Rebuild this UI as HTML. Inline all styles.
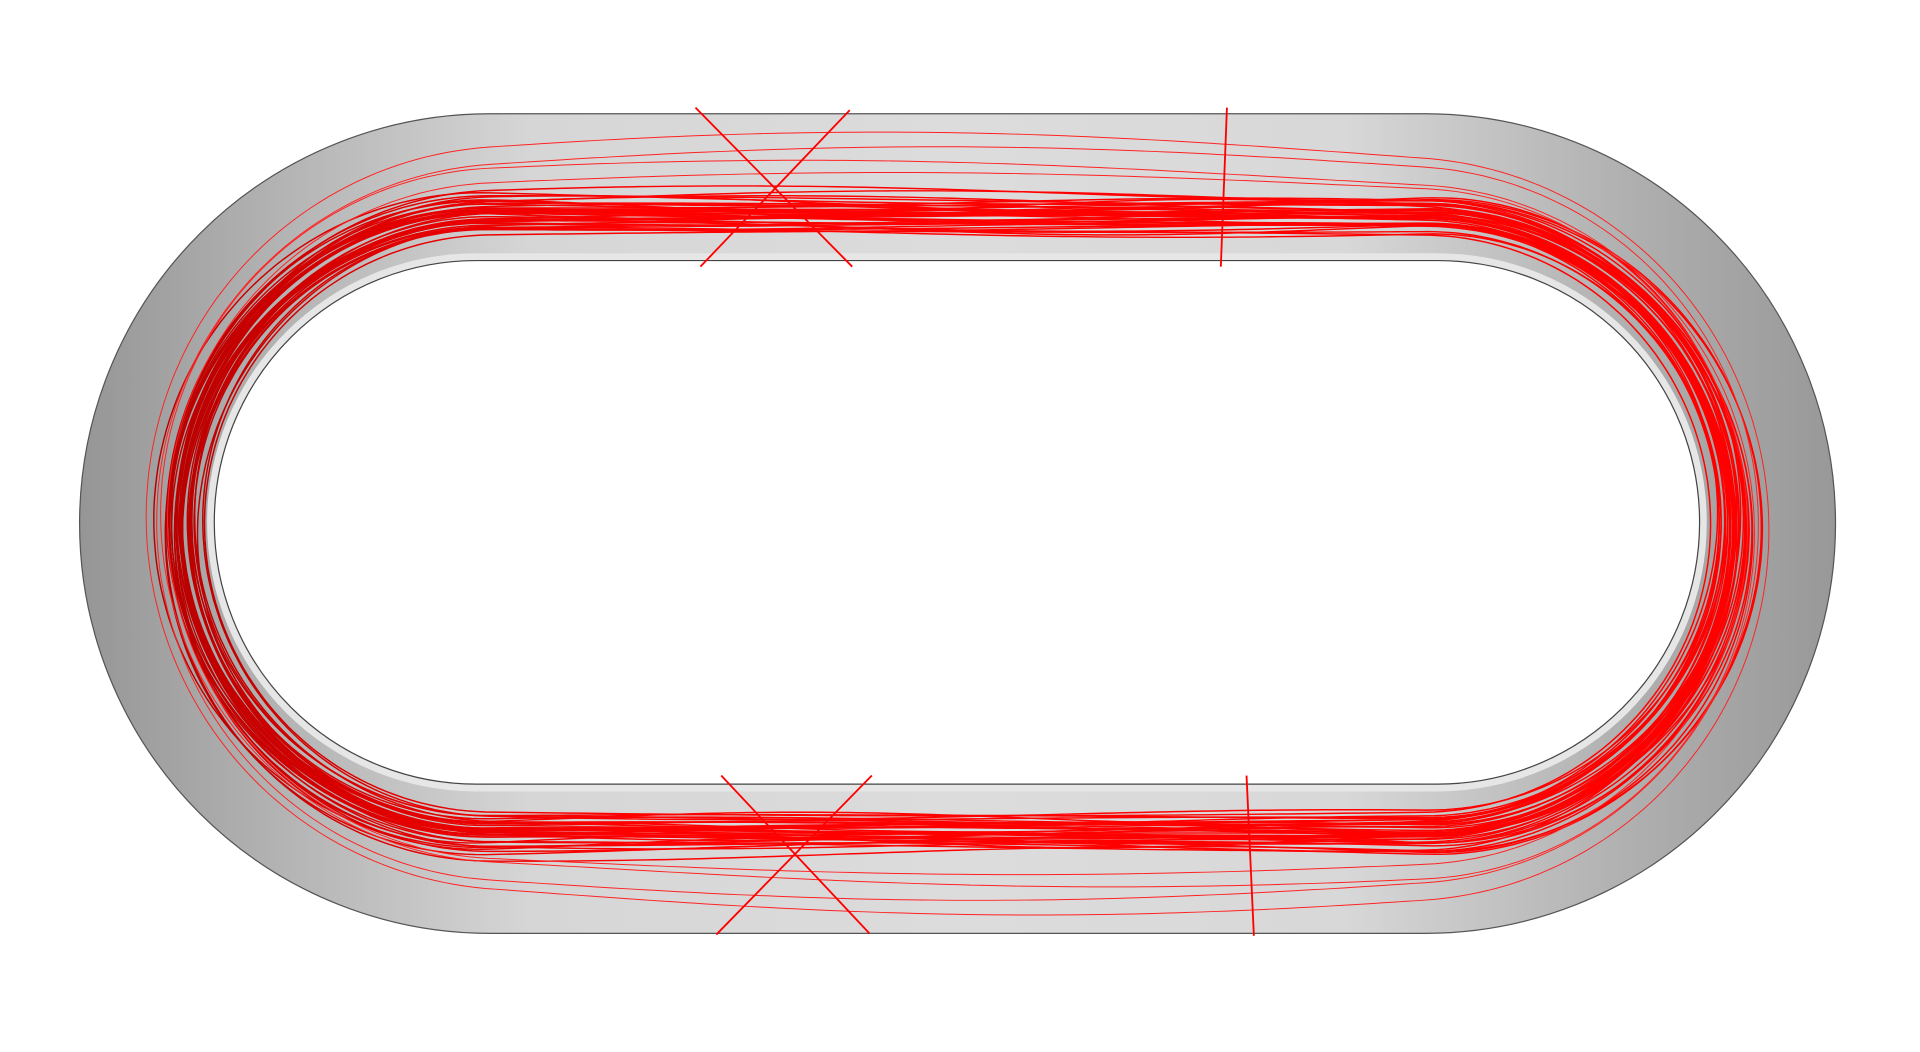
<!DOCTYPE html>
<html><head><meta charset="utf-8"><style>
html,body{margin:0;padding:0;background:#fff;width:1920px;height:1052px;overflow:hidden}
svg{display:block}
</style></head><body>
<svg width="1920" height="1052" viewBox="0 0 1568 860" preserveAspectRatio="none" xmlns="http://www.w3.org/2000/svg">
<defs>
<linearGradient id="g" x1="62" y1="0" x2="1500" y2="0" gradientUnits="userSpaceOnUse">
<stop offset="0" stop-color="#959595"/><stop offset="0.12" stop-color="#b4b4b4"/><stop offset="0.26" stop-color="#d6d6d6"/>
<stop offset="0.5" stop-color="#dcdcdc"/><stop offset="0.72" stop-color="#d8d8d8"/><stop offset="0.88" stop-color="#b0b0b0"/><stop offset="1" stop-color="#989898"/>
</linearGradient>
<linearGradient id="rs" x1="100" y1="0" x2="1500" y2="0" gradientUnits="userSpaceOnUse">
<stop offset="0" stop-color="#b00000"/><stop offset="0.15" stop-color="#e00000"/><stop offset="0.3" stop-color="#ff0000"/><stop offset="1" stop-color="#ff0000"/>
</linearGradient>
</defs>
<path d="M400,93 L1164,93 A335,335 0 0 1 1164,763 L400,763 A335,335 0 0 1 400,93 Z" fill="url(#g)" stroke="#555" stroke-width="1"/>
<path d="M389,207 L1174,207 A220,220 0 0 1 1174,647 L389,647 A220,220 0 0 1 389,207 Z" fill="#e6e6e6"/>
<path d="M389,213 L1174,213 A214,214 0 0 1 1174,641 L389,641 A214,214 0 0 1 389,213 Z" fill="#fff" stroke="#444" stroke-width="1"/>
<g id="orbits"></g>
<g stroke="#f00" stroke-width="1.5" fill="none">
<line x1="568" y1="88" x2="696" y2="218"/>
<line x1="694" y1="90" x2="572" y2="218"/>
<line x1="1002" y1="88" x2="997" y2="218"/>
<line x1="589" y1="634" x2="710" y2="763"/>
<line x1="712" y1="634" x2="585" y2="764"/>
<line x1="1018" y1="634" x2="1024" y2="765"/>
</g>
</svg>
<script>
// orbit data: radius from centre line, wobble amplitude, wobble count, phase
const radii=[236,238,240,241,242,243,244,245,246,247,248,249,250,250,251,252,253,254,255,255,256,257,258,259,260,261,262,263,264,266,268,270,248,252,256,246,250,254,243,258,262,275,282,290,300];
const amps=[3,4,2,5,3,3,5,2,4,3,3,5,2,6,3,4,3,5,3,2,5,3,4,3,5,3,6,3,4,6,7,6,4,3,5,2,4,3,3,5,6,12,15,18,20];
const waves=[2,3,2,4,3,2,3,5,2,3,4,2,3,2,5,3,2,4,3,2,3,4,2,3,5,2,3,4,2,3,2,3,4,2,3,2,3,2,3,2,4,2,2,2,2];
const phases=[0,1.2,2.4,0.5,3.1,4.2,1.7,2.9,5.0,0.3,1.9,3.8,4.7,2.2,0.9,5.5,1.4,3.3,2.6,4.0,0.7,5.2,1.1,3.6,2.0,4.5,0.2,3.0,1.6,5.8,2.8,0.4,4.9,1.3,3.5,2.1,5.3,0.8,4.1,2.5,1.0,0.3,0.6,0.2,0.4];
const cxL=400,cxR=1164,cy=428;
const g=document.getElementById('orbits');
const straight=cxR-cxL;
for(let i=0;i<radii.length;i++){
  const r=radii[i];
  const per=2*straight+2*Math.PI*r;
  const pts=[];
  const N=400;
  for(let j=0;j<=N;j++){
    let s=j/N*per, x, y, nx, ny;
    if(s<straight){x=cxL+s;y=cy-r;nx=0;ny=-1;}
    else if(s<straight+Math.PI*r){const a=(s-straight)/r-Math.PI/2;x=cxR+r*Math.cos(a);y=cy+r*Math.sin(a);nx=Math.cos(a);ny=Math.sin(a);}
    else if(s<2*straight+Math.PI*r){const d=s-straight-Math.PI*r;x=cxR-d;y=cy+r;nx=0;ny=1;}
    else{const a=(s-2*straight-Math.PI*r)/r+Math.PI/2;x=cxL+r*Math.cos(a);y=cy+r*Math.sin(a);nx=Math.cos(a);ny=Math.sin(a);}
    const w=amps[i]*Math.sin(waves[i]*2*Math.PI*j/N+phases[i]);
    pts.push((x+nx*w).toFixed(1)+','+(y+ny*w).toFixed(1));
  }
  const p=document.createElementNS('http://www.w3.org/2000/svg','polyline');
  
  
  p.setAttribute('points',pts.join(' '));
  p.setAttribute('fill','none');
  p.setAttribute('stroke',r<=270?'url(#rs)':'#f22');
  p.setAttribute('stroke-width',r<=270?'1.2':'0.8');
  g.appendChild(p);
}
</script>
</body></html>
